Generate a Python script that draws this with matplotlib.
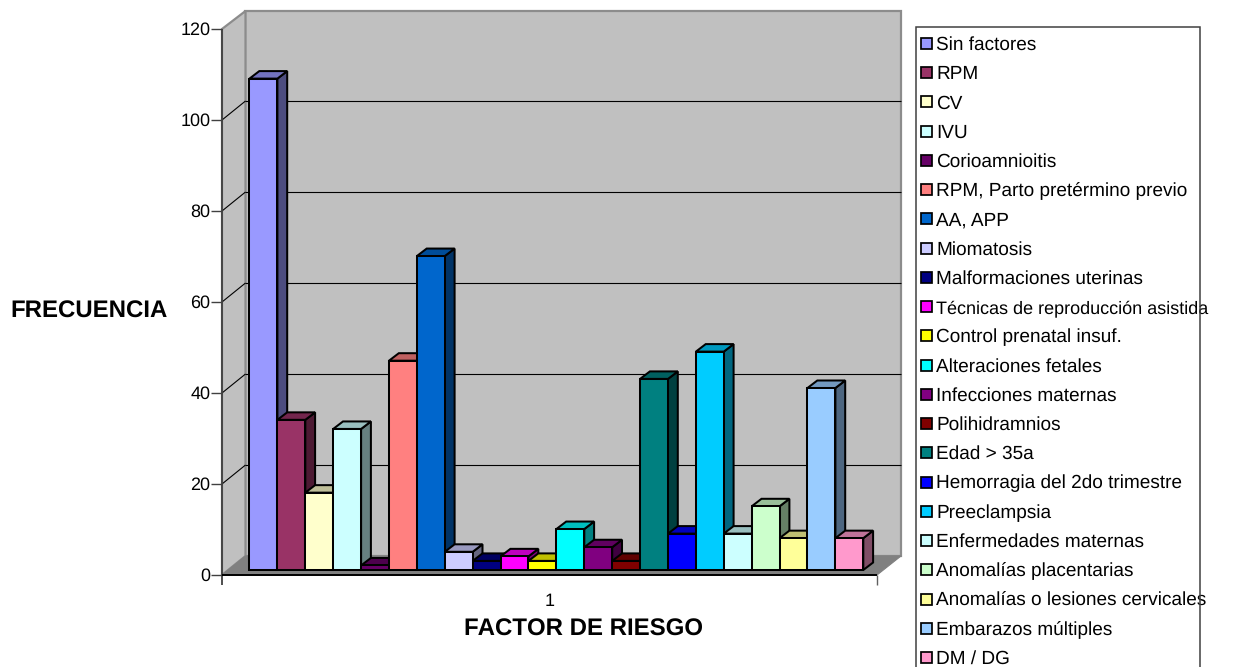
import matplotlib
matplotlib.use("Agg")
import matplotlib.pyplot as plt
from matplotlib.patches import Polygon, Rectangle
from matplotlib.colors import to_rgb

plt.rcParams['font.family'] = ['Liberation Sans', 'DejaVu Sans']
plt.rcParams['text.hinting'] = 'no_hinting'
plt.rcParams['text.hinting_factor'] = 1

factors = ["Sin factores", "RPM", "CV", "IVU", "Corioamnioitis",
           "RPM, Parto pretérmino previo", "AA, APP", "Miomatosis",
           "Malformaciones uterinas", "Técnicas de reproducción asistida",
           "Control prenatal insuf.", "Alteraciones fetales",
           "Infecciones maternas", "Polihidramnios", "Edad > 35a",
           "Hemorragia del 2do trimestre", "Preeclampsia",
           "Enfermedades maternas", "Anomalías placentarias",
           "Anomalías o lesiones cervicales", "Embarazos múltiples", "DM / DG"]
frecuencia = [108, 33, 17, 31, 1, 46, 69, 4, 2, 3, 2, 9, 5, 2, 42, 8, 48, 8, 14, 7, 40, 7]
colores = ["#9999FF", "#993366", "#FFFFCC", "#CCFFFF", "#660066", "#FF8080",
           "#0066CC", "#CCCCFF", "#000080", "#FF00FF", "#FFFF00", "#00FFFF",
           "#800080", "#800000", "#008080", "#0000FF", "#00CCFF", "#CCFFFF",
           "#CCFFCC", "#FFFF99", "#99CCFF", "#FF99CC"]
y_ticks = [0, 20, 40, 60, 80, 100, 120]

W, H = 1234, 667
BAR_X0, BAR_W = 249.5, 27.9     # left edge of the first bar and bar width (px)
BAR_Y0, UNIT = 570.0, 4.55      # baseline of the bars and px per unit
FONT = 13.0
LEGEND_FONT = 13.45
LONG_LABEL_FONT = 13.0          # the longest legend label is set slightly tighter
TITLE_FONT = 17.3


def xd(px):
    return (px - BAR_X0) / BAR_W


def yd(py):
    return (BAR_Y0 - py) / UNIT


def shade(color, k):
    return tuple(c * k for c in to_rgb(color))


fig = plt.figure(figsize=(W / 100, H / 100), dpi=100, facecolor="white")
ax = fig.add_axes([0, 0, 1, 1])
ax.set_xlim(xd(0), xd(W))
ax.set_ylim(yd(H), yd(0))
ax.axis("off")


def poly(points, **kw):
    ax.add_patch(Polygon([(xd(x), yd(y)) for x, y in points], closed=True, **kw))


def seg(x0, y0, x1, y1, color="black", lw=0.8, z=3):
    ax.plot([xd(x0), xd(x1)], [yd(y0), yd(y1)], color=color, lw=lw, zorder=z,
            solid_capstyle="butt")


def text_px(x, y, s, **kw):
    ax.text(xd(x), yd(y), s, va="center", fontsize=kw.pop("fontsize", FONT), color="black", **kw)


# Walls and floor of the 3D box
L, R, FY, BL, BR, BY = 222, 877, 575, 245.5, 901, 556
TOP_F, TOP_B = 29, 11
poly([(BL, TOP_B), (BR, TOP_B), (BR, BY), (BL, BY)], fc="#C0C0C0", ec="#8C8C8C", lw=1.6, zorder=1)
poly([(L, TOP_F), (BL, TOP_B), (BL, BY), (L, FY)], fc="#C0C0C0", ec="#8C8C8C", lw=1.6, zorder=1)
poly([(L, FY), (R, FY), (BR, BY), (BL, BY)], fc="#808080", ec="#808080", lw=0.8, zorder=2)

# Gridlines follow the side wall, then run along the back wall
for v in y_ticks[1:-1]:
    yf = FY - v * UNIT
    yb = BY - v * UNIT
    seg(L, yf, BL, yb)
    seg(BL, yb, BR, yb)

# Bars: later series are drawn over the side faces of earlier ones
DX, DY = 9.8, 7.5
dx, dy = DX / BAR_W, DY / UNIT
EDGE = 1.45
for i, (v, c) in enumerate(zip(frecuencia, colores)):
    z = 10 + i
    side = [(i + 1, 0), (i + 1 + dx, dy), (i + 1 + dx, v + dy), (i + 1, v)]
    top = [(i, v), (i + dx, v + dy), (i + 1 + dx, v + dy), (i + 1, v)]
    ax.add_patch(Polygon(side, closed=True, fc=shade(c, 0.5), ec="black", lw=EDGE,
                         zorder=z, joinstyle="miter"))
    ax.add_patch(Polygon(top, closed=True, fc=shade(c, 0.75), ec="black", lw=EDGE,
                         zorder=z, joinstyle="miter"))
    ax.bar(i, v, width=1, align="edge", color=c, edgecolor="black", linewidth=EDGE,
           zorder=z + 0.5)

# Axis lines and ticks
seg(L, TOP_F, L, FY + 10, color="#404040", lw=1.3, z=5)
seg(L, FY, R, FY, color="black", lw=1.4, z=40)
seg(R, FY, R, FY + 10, color="#606060", lw=1.0, z=5)
for v in y_ticks:
    y = FY - v * UNIT
    seg(L - 11, y, L, y, color="#404040", lw=1.0, z=5)
    text_px(210.5, y + 1.5, str(v), ha="right")

# Axis titles
text_px(549.5, 601.5, "1", ha="center")
text_px(584, 629.5, "FACTOR DE RIESGO", ha="center", fontweight="bold", fontsize=TITLE_FONT)
text_px(89.5, 312, "FRECUENCIA", ha="center", fontweight="bold", fontsize=TITLE_FONT)

# Legend box, running past the bottom edge of the figure; labels may cross its border
LX0, LX1, LY0 = 916.5, 1200, 27
ax.add_patch(Rectangle((xd(LX0), yd(H + 5)), xd(LX1) - xd(LX0), yd(LY0) - yd(H + 5),
                       fc="white", ec="none", zorder=50))
ax.add_patch(Rectangle((xd(LX0), yd(H + 5)), xd(LX1) - xd(LX0), yd(LY0) - yd(H + 5),
                       fc="none", ec="#404040", lw=1.1, zorder=53))
ROW0, ROW_STEP = 44.5, 29.24
longest = max(factors, key=len)
for i, (name, c) in enumerate(zip(factors, colores)):
    y = ROW0 + i * ROW_STEP
    ax.add_patch(Rectangle((xd(921), yd(y + 4.5)), xd(932) - xd(921), yd(y - 6.5) - yd(y + 4.5),
                           fc=c, ec="black", lw=1.25, zorder=51))
    ax.text(xd(936), yd(y + 0.5), name, va="center", ha="left",
            fontsize=LONG_LABEL_FONT if name == longest else LEGEND_FONT,
            color="black", zorder=52)

fig.savefig("out.png", dpi=100)
